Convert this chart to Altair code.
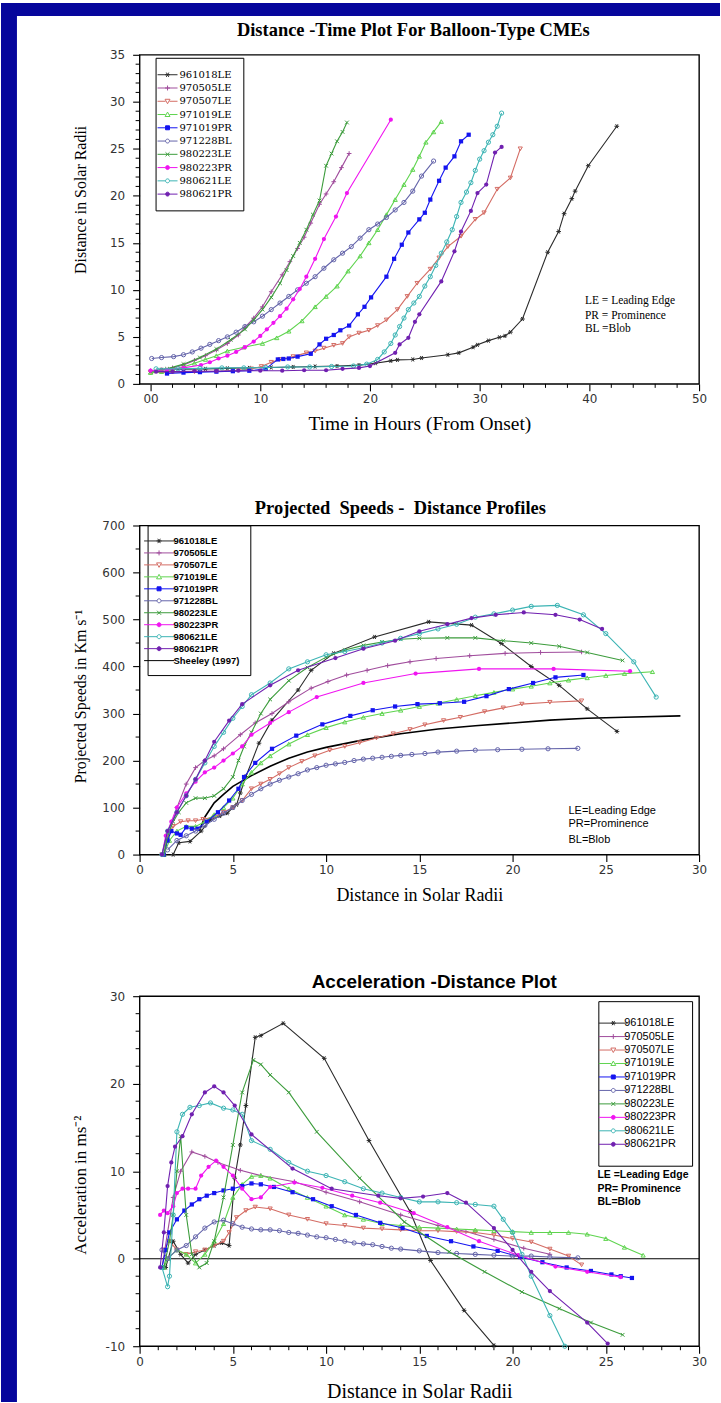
import altair as alt
import pandas as pd

SERIES = ["961018LE", "970505LE", "970507LE", "971019LE", "971019PR",
          "971228BL", "980223LE", "980223PR", "980621LE", "980621PR"]
COLORS = ["#2a2a2a", "#a04c9c", "#d46c64", "#5fd44f", "#1414f0",
          "#6464aa", "#3c9c3c", "#f014f0", "#3cb4b4", "#7020b0"]
KINDS = ["asterisk", "plus", "tri_down", "tri_up", "square",
         "circle", "x", "circle", "circle", "circle"]
FILLED = [False, False, False, False, True, False, False, True, False, True]

# ---------------- Panel 1: distance (Rsun) vs time (h) ----------------
T1_961018LE = [1.0, 3.0, 5.0, 7.0, 9.0, 11.0, 13.0, 15.0, 17.0, 19.0, 20.5, 21.9, 22.5, 23.9, 24.7, 27.1, 28.1, 29.4, 29.8, 30.8, 31.8, 32.3, 32.8, 33.9, 36.2, 37.2, 37.7, 38.4, 38.7, 39.9, 42.5]
D1_961018LE = [1.5, 1.55, 1.6, 1.65, 1.7, 1.75, 1.8, 1.85, 1.9, 2.0, 2.2, 2.45, 2.55, 2.6, 2.75, 3.1, 3.3, 3.9, 4.15, 4.6, 4.95, 5.1, 5.5, 6.9, 14.0, 16.2, 18.1, 19.7, 20.5, 23.2, 27.4]
T1_970505LE = [0.0, 1.0, 2.0, 3.0, 4.0, 5.0, 6.0, 7.0, 8.0, 8.6, 9.4, 10.2, 11.0, 12.0, 12.7, 13.4, 14.0, 14.6, 15.4, 16.0, 16.7, 17.4, 18.1]
D1_970505LE = [1.4, 1.5, 1.7, 2.0, 2.5, 3.0, 3.6, 4.3, 5.2, 6.0, 7.0, 8.2, 9.8, 11.6, 13.0, 14.4, 15.6, 17.1, 19.1, 20.2, 21.5, 23.0, 24.5]
T1_970507LE = [0.0, 2.0, 4.0, 6.0, 8.0, 9.2, 10.1, 11.0, 11.8, 13.0, 14.2, 15.0, 15.8, 16.7, 17.5, 18.1, 19.0, 19.9, 20.7, 21.5, 22.5, 23.4, 24.3, 25.5, 26.3, 27.1, 28.3, 29.6, 30.4, 31.6, 32.8, 33.7]
D1_970507LE = [1.2, 1.25, 1.3, 1.35, 1.45, 1.6, 1.85, 2.3, 2.6, 2.9, 3.3, 3.5, 3.8, 4.1, 4.3, 5.0, 5.4, 5.7, 6.2, 6.8, 7.9, 9.3, 10.7, 12.2, 13.4, 14.6, 15.7, 17.5, 18.2, 20.7, 21.9, 25.0]
T1_971019LE = [0.0, 1.0, 2.0, 3.0, 4.0, 5.0, 6.0, 7.0, 8.5, 10.2, 11.5, 12.6, 13.8, 15.0, 16.0, 17.0, 18.0, 19.1, 19.9, 20.7, 21.5, 22.3, 23.1, 23.9, 24.5, 25.1, 25.8, 26.5]
D1_971019LE = [1.2, 1.3, 1.5, 1.8, 2.2, 2.6, 3.0, 3.5, 3.9, 4.3, 4.9, 5.6, 6.7, 8.2, 9.3, 10.4, 12.0, 13.6, 15.0, 16.4, 18.0, 19.6, 21.2, 22.8, 24.2, 25.7, 26.8, 27.9]
T1_971019PR = [1.5, 3.0, 4.5, 6.0, 7.5, 9.0, 10.5, 11.6, 12.1, 12.6, 13.4, 14.6, 15.4, 16.0, 16.7, 17.3, 18.1, 18.9, 19.5, 20.1, 21.5, 22.2, 22.9, 23.5, 24.5, 25.0, 25.5, 26.3, 26.9, 27.7, 28.3, 29.0]
D1_971019PR = [1.1, 1.2, 1.25, 1.3, 1.35, 1.4, 1.6, 2.6, 2.65, 2.7, 2.9, 3.2, 4.2, 4.8, 5.2, 5.7, 6.2, 7.4, 8.2, 9.2, 11.4, 13.3, 14.8, 16.1, 17.5, 18.2, 19.6, 21.6, 23.0, 24.2, 25.8, 26.5]
T1_971228BL = [0.1, 1.0, 2.1, 3.0, 3.8, 4.6, 5.4, 6.2, 7.0, 7.8, 8.6, 9.4, 10.2, 11.0, 11.8, 12.6, 13.4, 14.2, 15.0, 15.8, 16.7, 17.5, 18.3, 19.1, 19.9, 20.7, 21.5, 22.3, 23.1, 23.9, 24.7, 25.8]
D1_971228BL = [2.7, 2.8, 2.9, 3.1, 3.4, 3.8, 4.2, 4.6, 5.0, 5.5, 6.1, 6.6, 7.2, 7.9, 8.6, 9.3, 10.0, 10.7, 11.4, 12.3, 13.2, 13.9, 14.6, 15.5, 16.4, 17.0, 17.7, 18.5, 19.3, 20.5, 22.1, 23.7]
T1_980223LE = [0.0, 1.5, 3.0, 4.5, 6.0, 7.3, 8.6, 9.4, 10.2, 11.0, 11.8, 12.4, 13.0, 13.6, 14.2, 14.8, 15.4, 16.0, 16.5, 17.0, 17.5, 17.9]
D1_980223LE = [1.3, 1.6, 2.1, 2.8, 3.7, 4.7, 5.8, 6.8, 7.9, 9.2, 10.7, 12.1, 13.6, 15.0, 16.4, 18.0, 19.5, 23.2, 24.5, 25.8, 26.8, 27.8]
T1_980223PR = [0.0, 1.5, 3.0, 4.6, 5.4, 6.2, 7.0, 7.8, 8.6, 9.4, 10.0, 10.6, 11.2, 11.8, 12.4, 13.0, 13.6, 14.2, 15.0, 15.8, 16.9, 17.9, 21.9]
D1_980223PR = [1.4, 1.5, 1.7, 2.0, 2.3, 2.7, 3.0, 3.4, 3.9, 4.5, 5.1, 5.8, 6.5, 7.2, 8.0, 9.0, 10.1, 11.4, 13.3, 15.4, 17.8, 20.3, 28.1]
T1_980621LE = [0.5, 2.5, 4.5, 6.5, 8.5, 10.5, 12.5, 14.5, 16.5, 18.5, 19.7, 20.7, 21.3, 21.9, 22.3, 22.7, 23.1, 23.5, 24.0, 24.5, 25.0, 25.5, 26.0, 26.5, 27.0, 27.5, 27.9, 28.3, 28.8, 29.2, 29.6, 30.0, 30.4, 30.8, 31.2, 31.6, 32.0]
D1_980621LE = [1.6, 1.6, 1.65, 1.7, 1.7, 1.75, 1.8, 1.8, 1.85, 1.9, 2.1, 2.6, 3.4, 4.3, 5.2, 6.1, 7.0, 7.9, 8.6, 9.3, 10.4, 11.4, 12.6, 13.9, 15.1, 16.4, 17.8, 19.3, 20.4, 21.4, 22.7, 23.9, 24.8, 25.7, 26.5, 27.4, 28.8]
T1_980621PR = [0.5, 2.0, 4.0, 6.0, 8.0, 10.0, 12.0, 14.0, 16.0, 17.5, 19.0, 20.0, 22.3, 22.7, 23.5, 24.1, 24.5, 26.5, 27.7, 28.3, 29.2, 29.8, 30.6, 31.4, 32.0]
D1_980621PR = [1.3, 1.3, 1.35, 1.35, 1.4, 1.4, 1.4, 1.45, 1.45, 1.6, 1.7, 1.9, 3.3, 4.2, 4.9, 6.6, 7.4, 10.9, 14.1, 16.2, 18.4, 20.3, 21.2, 24.6, 25.2]

# ---------------- Panel 2: projected speed (km/s) vs distance (Rsun) ----------------
R2_961018LE = [1.8, 2.1, 2.7, 3.3, 3.8, 4.3, 4.7, 5.0, 5.2, 5.4, 5.7, 6.4, 7.1, 8.5, 9.2, 10.4, 12.6, 15.5, 17.8, 19.4, 21.0, 22.5, 24.0, 25.6]
V2_961018LE = [0, 25, 28, 50, 74, 82, 88, 100, 106, 131, 166, 237, 286, 350, 392, 428, 463, 495, 488, 449, 400, 360, 310, 262]
R2_970505LE = [1.3, 1.6, 2.0, 2.5, 3.0, 3.5, 4.0, 4.5, 5.4, 6.2, 7.1, 8.0, 9.2, 10.1, 11.1, 12.2, 13.3, 14.5, 15.9, 17.7, 19.6, 21.5, 23.7]
V2_970505LE = [0, 50, 100, 150, 185, 200, 210, 225, 255, 280, 300, 325, 354, 368, 382, 392, 402, 410, 417, 423, 428, 430, 431]
R2_970507LE = [1.2, 1.5, 1.8, 2.2, 2.6, 3.0, 3.4, 4.0, 4.5, 5.0, 5.5, 6.0, 6.5, 7.0, 7.5, 8.0, 8.7, 9.4, 10.2, 11.0, 11.8, 12.7, 13.6, 14.5, 15.3, 16.3, 17.2, 18.5, 19.5, 20.5, 22.0, 23.7]
V2_970507LE = [0, 40, 60, 70, 72, 72, 75, 80, 90, 100, 115, 140, 150, 160, 172, 185, 198, 210, 222, 230, 238, 248, 257, 266, 276, 285, 292, 304, 312, 320, 324, 327]
R2_971019LE = [1.3, 1.6, 2.0, 2.5, 3.0, 3.5, 4.0, 4.5, 5.0, 5.5, 6.0, 6.5, 7.0, 8.0, 9.0, 10.0, 11.0, 12.0, 13.0, 14.0, 15.0, 16.0, 17.0, 18.0, 19.0, 20.0, 21.0, 22.0, 23.0, 24.0, 25.0, 26.0, 27.5]
V2_971019LE = [0, 30, 50, 60, 60, 70, 85, 100, 120, 150, 175, 195, 210, 235, 255, 270, 282, 292, 300, 307, 315, 322, 330, 338, 345, 352, 358, 365, 371, 376, 381, 385, 389]
R2_971019PR = [1.3, 1.5, 1.7, 2.0, 2.2, 2.5, 2.8, 3.1, 3.6, 4.2, 4.8, 5.3, 5.6, 6.2, 7.1, 8.4, 9.8, 11.3, 12.5, 13.7, 14.9, 16.1, 17.4, 18.6, 19.8, 21.1, 22.3, 23.8]
V2_971019PR = [0, 30, 50, 45, 42, 58, 55, 55, 70, 90, 115, 140, 165, 195, 225, 253, 277, 295, 307, 315, 320, 322, 325, 337, 352, 365, 377, 382]
R2_971228BL = [1.5, 2.0, 2.5, 3.0, 3.5, 4.0, 4.5, 5.0, 5.5, 6.0, 6.5, 7.0, 7.5, 8.0, 8.5, 9.0, 9.5, 10.0, 10.5, 11.0, 11.5, 12.0, 12.5, 13.0, 13.5, 14.0, 14.6, 15.3, 16.0, 17.0, 18.0, 19.2, 20.5, 21.9, 23.5]
V2_971228BL = [10, 30, 40, 50, 62, 75, 88, 100, 115, 128, 140, 150, 158, 165, 172, 180, 185, 190, 193, 196, 200, 203, 205, 207, 209, 211, 213, 215, 218, 220, 222, 223, 224, 225, 226]
R2_980223LE = [1.3, 1.5, 1.8, 2.1, 2.5, 3.0, 3.5, 4.0, 4.5, 5.0, 5.3, 5.6, 6.0, 6.5, 7.0, 8.0, 9.0, 10.0, 11.0, 12.0, 13.0, 14.0, 15.0, 16.5, 18.0, 19.5, 21.0, 22.5, 24.0, 25.9]
V2_980223LE = [0, 40, 70, 90, 110, 120, 120, 125, 140, 165, 200, 230, 260, 300, 330, 370, 398, 420, 435, 445, 452, 458, 460, 461, 461, 455, 450, 443, 430, 413]
R2_980223PR = [1.2, 1.4, 1.7, 2.0, 2.5, 3.0, 3.5, 4.0, 4.5, 5.0, 5.5, 6.0, 7.0, 8.0, 9.5, 12.0, 14.8, 18.2, 22.2, 26.3]
V2_980223PR = [0, 40, 70, 100, 130, 155, 175, 185, 200, 215, 230, 255, 280, 303, 335, 365, 385, 395, 395, 390]
R2_980621LE = [1.2, 1.5, 2.0, 2.5, 3.0, 3.5, 4.0, 4.5, 5.0, 5.5, 6.0, 7.0, 8.0, 9.0, 10.0, 11.0, 12.0, 13.0, 14.0, 15.0, 16.0, 17.0, 18.0, 19.0, 20.0, 21.0, 22.4, 23.8, 25.0, 26.5, 27.7]
V2_980621LE = [0, 50, 90, 125, 160, 195, 230, 260, 290, 315, 340, 365, 395, 410, 425, 432, 440, 450, 460, 470, 480, 490, 505, 512, 520, 528, 530, 510, 470, 410, 335]
R2_980621PR = [1.2, 1.5, 2.0, 2.5, 3.0, 3.5, 4.0, 4.8, 5.5, 7.0, 8.5, 10.5, 12.0, 13.7, 15.0, 16.5, 17.8, 19.1, 20.6, 22.3, 23.6, 24.8]
V2_980621PR = [0, 50, 90, 125, 160, 200, 240, 285, 320, 360, 392, 418, 438, 455, 475, 490, 503, 510, 515, 510, 500, 480]
R2_SHEELEY = [3.2, 3.5, 4.0, 4.5, 5.0, 6.0, 7.0, 8.0, 9.0, 10.0, 12.0, 14.0, 16.0, 18.0, 20.0, 22.0, 24.0, 26.0, 29.0]
V2_SHEELEY = [50, 80, 110, 128, 145, 168, 188, 205, 218, 228, 244, 257, 267, 274, 280, 286, 290, 292, 295]

# ---------------- Panel 3: acceleration (m/s^2) vs distance (Rsun) ----------------
R3_961018LE = [1.4, 1.8, 2.2, 2.6, 3.0, 3.5, 4.0, 4.4, 4.8, 5.1, 5.4, 5.7, 6.2, 6.5, 7.7, 9.9, 12.3, 14.5, 15.6, 17.4, 19.0]
A3_961018LE = [-1.0, 2.0, 0.5, -0.5, 0.5, 1.0, 1.5, 1.8, 1.5, 9.2, 13.0, 17.5, 25.3, 25.5, 26.9, 22.9, 13.5, 5.4, -0.2, -5.9, -9.9]
R3_970505LE = [1.2, 1.5, 1.8, 2.2, 2.8, 3.5, 4.2, 5.4, 6.5, 8.3, 10.0, 11.8, 14.0, 16.0, 17.5, 19.0, 20.6, 22.0]
A3_970505LE = [-1.0, 3.0, 7.0, 10.0, 12.2, 11.7, 11.0, 10.1, 9.5, 8.8, 7.6, 6.5, 5.0, 3.8, 3.1, 2.2, 1.2, 0.5]
R3_970507LE = [1.3, 1.6, 2.0, 2.5, 3.0, 3.5, 4.0, 4.5, 4.8, 5.2, 5.7, 6.2, 7.0, 8.0, 9.0, 10.0, 11.0, 12.0, 13.0, 14.0, 15.0, 16.0, 17.0, 18.0, 19.0, 20.0, 21.0, 22.0, 23.0, 23.7]
A3_970507LE = [1.0, 2.0, 1.0, 0.5, 0.8, 1.0, 1.5, 2.0, 3.0, 4.7, 5.5, 5.9, 5.7, 5.0, 4.5, 4.0, 3.8, 3.5, 3.4, 3.3, 3.2, 3.2, 3.1, 3.0, 2.7, 2.3, 1.9, 1.1, 0.3, -0.7]
R3_971019LE = [1.3, 1.5, 2.0, 2.5, 3.0, 3.5, 4.0, 4.5, 5.0, 5.5, 6.0, 6.5, 7.0, 8.0, 9.0, 10.0, 11.0, 12.0, 13.0, 14.0, 15.0, 16.0, 17.0, 18.0, 19.0, 20.0, 21.0, 22.0, 23.0, 24.0, 25.0, 26.0, 27.0]
A3_971019LE = [-1.0, 0.0, 1.0, 0.5, -0.5, 0.5, 2.0, 4.0, 7.0, 8.5, 9.4, 9.5, 9.2, 8.0, 7.0, 6.0, 5.0, 4.5, 4.0, 3.8, 3.6, 3.5, 3.4, 3.3, 3.2, 3.1, 3.0, 3.0, 3.0, 2.8, 2.3, 1.3, 0.4]
R3_971019PR = [1.2, 1.4, 1.6, 2.0, 2.4, 2.8, 3.2, 3.6, 4.0, 4.5, 5.0, 5.5, 6.0, 6.5, 7.2, 8.2, 9.3, 10.3, 11.6, 12.9, 14.1, 15.4, 16.7, 17.9, 19.2, 20.4, 21.6, 22.9, 24.2, 25.3, 25.8, 26.4]
A3_971019PR = [-1.0, 1.0, 3.0, 4.5, 5.5, 6.2, 6.8, 7.2, 7.5, 7.8, 8.0, 8.3, 8.6, 8.5, 8.2, 7.6, 6.8, 6.0, 5.0, 4.1, 3.5, 2.6, 2.0, 1.4, 0.9, 0.2, -0.4, -1.0, -1.4, -1.8, -2.0, -2.2]
R3_971228BL = [1.2, 1.5, 2.0, 2.5, 3.0, 3.5, 4.0, 4.5, 5.0, 5.5, 6.0, 6.5, 7.0, 7.5, 8.0, 8.5, 9.0, 9.5, 10.0, 10.5, 11.0, 11.5, 12.0, 12.5, 13.0, 13.5, 14.0, 15.0, 16.0, 17.0, 18.0, 19.0, 20.0, 21.0, 22.0, 23.5]
A3_971228BL = [1.0, 0.0, 1.0, 1.5, 2.5, 3.5, 4.2, 4.4, 4.0, 3.6, 3.4, 3.3, 3.3, 3.2, 3.0, 2.9, 2.7, 2.5, 2.4, 2.2, 2.0, 1.8, 1.7, 1.6, 1.4, 1.2, 1.1, 0.9, 0.7, 0.6, 0.5, 0.4, 0.3, 0.3, 0.2, 0.1]
R3_980223LE = [1.3, 1.6, 1.8, 2.0, 2.2, 2.5, 2.8, 3.2, 3.6, 4.0, 4.5, 5.0, 5.5, 6.1, 6.5, 7.0, 8.0, 9.5, 11.8, 14.2, 16.6, 18.5, 20.5, 22.5, 24.2, 25.9]
A3_980223LE = [-1.0, 2.0, 5.0, 10.0, 14.0, 5.0, 0.5, -1.0, -0.5, 2.0, 7.0, 13.0, 19.0, 22.7, 22.2, 21.0, 19.0, 14.5, 9.2, 4.2, 0.8, -1.5, -3.8, -5.7, -7.3, -8.7]
R3_980223PR = [1.1, 1.3, 1.5, 1.8, 2.0, 2.3, 2.6, 3.0, 3.3, 3.7, 4.1, 4.5, 5.0, 5.5, 6.0, 6.5, 7.0, 8.3, 9.8, 11.4, 12.9, 14.7, 16.5, 18.2, 20.3, 22.3, 24.0, 25.8]
A3_980223PR = [5.0, 5.5, 5.2, 6.0, 7.5, 8.0, 8.0, 8.0, 9.5, 10.5, 11.2, 10.5, 9.5, 8.0, 6.8, 7.0, 8.2, 8.7, 8.1, 7.2, 6.4, 5.2, 3.6, 2.0, 0.4, -0.9, -1.5, -2.1]
R3_980621LE = [1.2, 1.5, 1.6, 1.8, 2.0, 2.3, 2.7, 3.2, 3.8, 4.5, 5.0, 5.5, 6.0, 7.0, 8.0, 9.0, 10.0, 11.0, 12.0, 13.0, 14.0, 15.0, 16.0, 17.0, 18.0, 19.0, 19.5, 20.0, 20.5, 21.0, 22.0, 22.8]
A3_980621LE = [-1.0, -3.2, -2.0, 5.0, 14.5, 16.5, 17.3, 17.5, 17.8, 17.2, 17.0, 16.5, 13.5, 12.5, 11.0, 10.0, 9.5, 8.8, 8.0, 7.5, 7.0, 6.5, 6.5, 6.4, 6.2, 6.0, 4.5, 3.0, 0.5, -2.0, -6.5, -10.0]
R3_980621PR = [1.1, 1.3, 1.5, 1.7, 1.9, 2.3, 2.8, 3.5, 4.0, 4.5, 5.1, 6.0, 8.2, 10.3, 12.8, 14.0, 15.2, 16.5, 17.5, 19.0, 20.0, 21.0, 22.0, 24.0, 25.1]
A3_980621PR = [-1.0, 3.0, 8.3, 11.0, 12.8, 14.0, 16.5, 19.0, 19.7, 19.0, 17.5, 14.2, 10.3, 8.0, 7.2, 6.9, 7.1, 7.5, 6.4, 3.5, 1.0, -1.5, -3.7, -7.3, -9.7]

NOTE_TEXT_1 = ["LE = Leading Edge", "PR = Prominence", "BL =Blob"]
NOTE_X_1 = [39.6, 39.6, 39.6]
NOTE_Y_1 = [8.8, 7.2, 5.8]
NOTE_TEXT_2 = ["LE=Leading Edge", "PR=Prominence", "BL=Blob"]
NOTE_X_2 = [23.0, 23.0, 23.0]
NOTE_Y_2 = [92, 64, 32]
NOTE_TEXT_3 = ["LE =Leading Edge", "PR= Prominence", "BL=Blob"]
NOTE_X_3 = [24.55, 24.55, 24.55]
NOTE_Y_3 = [9.55, 8.0, 6.5]

# axis tick positions
MAJOR_X_1 = [0, 10, 20, 30, 40, 50]
MINOR_X_1 = [2, 4, 6, 8, 12, 14, 16, 18, 22, 24, 26, 28, 32, 34, 36, 38, 42, 44, 46, 48]
MAJOR_Y_1 = [0, 5, 10, 15, 20, 25, 30, 35]
MINOR_Y_1 = [1, 2, 3, 4, 6, 7, 8, 9, 11, 12, 13, 14, 16, 17, 18, 19, 21, 22, 23, 24, 26, 27, 28, 29, 31, 32, 33, 34]
MAJOR_X_2 = [0, 5, 10, 15, 20, 25, 30]
MINOR_X_2 = []
MAJOR_Y_2 = [0, 100, 200, 300, 400, 500, 600, 700]
MINOR_Y_2 = [50, 150, 250, 350, 450, 550, 650]
MAJOR_X_3 = [0, 5, 10, 15, 20, 25, 30]
MINOR_X_3 = [1, 2, 3, 4, 6, 7, 8, 9, 11, 12, 13, 14, 16, 17, 18, 19, 21, 22, 23, 24, 26, 27, 28, 29]
MAJOR_Y_3 = [-10, 0, 10, 20, 30]
MINOR_Y_3 = [-8, -6, -4, -2, 2, 4, 6, 8, 12, 14, 16, 18, 22, 24, 26, 28]

P1 = list(zip(SERIES,
              [T1_961018LE, T1_970505LE, T1_970507LE, T1_971019LE, T1_971019PR, T1_971228BL, T1_980223LE, T1_980223PR, T1_980621LE, T1_980621PR],
              [D1_961018LE, D1_970505LE, D1_970507LE, D1_971019LE, D1_971019PR, D1_971228BL, D1_980223LE, D1_980223PR, D1_980621LE, D1_980621PR]))
P2 = list(zip(SERIES,
              [R2_961018LE, R2_970505LE, R2_970507LE, R2_971019LE, R2_971019PR, R2_971228BL, R2_980223LE, R2_980223PR, R2_980621LE, R2_980621PR],
              [V2_961018LE, V2_970505LE, V2_970507LE, V2_971019LE, V2_971019PR, V2_971228BL, V2_980223LE, V2_980223PR, V2_980621LE, V2_980621PR]))
P3 = list(zip(SERIES,
              [R3_961018LE, R3_970505LE, R3_970507LE, R3_971019LE, R3_971019PR, R3_971228BL, R3_980223LE, R3_980223PR, R3_980621LE, R3_980621PR],
              [A3_961018LE, A3_970505LE, A3_970507LE, A3_971019LE, A3_971019PR, A3_971228BL, A3_980223LE, A3_980223PR, A3_980621LE, A3_980621PR]))


def long_frame(triples):
    rows = []
    for name, xs, ys in triples:
        for i, (a, b) in enumerate(zip(xs, ys)):
            rows.append({"series": name, "x": a, "y": b, "i": i})
    return pd.DataFrame(rows)


PLOT_SHAPE = {
    "asterisk": "M-1,0L1,0M-0.5,-0.87L0.5,0.87M-0.5,0.87L0.5,-0.87",
    "plus": "M-1,0L1,0M0,-1L0,1",
    "x": "M-0.8,-0.8L0.8,0.8M-0.8,0.8L0.8,-0.8",
    "tri_down": "triangle-down",
    "tri_up": "triangle-up",
    "square": "square",
    "circle": "circle",
}


def f(v):
    return f"{v:.3f}"


def legend_path(kind, L, m):
    if kind is None:
        return f"M{f(-L)},0L{f(L)},0"
    g = 0.8 * m
    line = f"M{f(-L)},0L{f(-g)},0M{f(g)},0L{f(L)},0"
    if kind == "asterisk":
        mk = (f"M{f(-m)},0L{f(m)},0M{f(-m/2)},{f(-0.87*m)}L{f(m/2)},{f(0.87*m)}"
              f"M{f(-m/2)},{f(0.87*m)}L{f(m/2)},{f(-0.87*m)}")
        line = f"M{f(-L)},0L{f(L)},0"
    elif kind == "plus":
        mk = f"M{f(-m)},0L{f(m)},0M0,{f(-m)}L0,{f(m)}"
        line = f"M{f(-L)},0L{f(L)},0"
    elif kind == "x":
        mk = f"M{f(-g)},{f(-g)}L{f(g)},{f(g)}M{f(-g)},{f(g)}L{f(g)},{f(-g)}"
        line = f"M{f(-L)},0L{f(L)},0"
    elif kind == "tri_down":
        mk = f"M{f(-m)},{f(-0.8*m)}L{f(m)},{f(-0.8*m)}L0,{f(m)}Z"
    elif kind == "tri_up":
        mk = f"M{f(-m)},{f(0.8*m)}L{f(m)},{f(0.8*m)}L0,{f(-m)}Z"
    elif kind == "square":
        mk = f"M{f(-g)},{f(-g)}L{f(g)},{f(-g)}L{f(g)},{f(g)}L{f(-g)},{f(g)}Z"
    else:
        mk = f"M{f(-g)},0A{f(g)},{f(g)} 0 1,0 {f(g)},0A{f(g)},{f(g)} 0 1,0 {f(-g)},0Z"
    return line + mk


def axis(values, label_expr, title, tfont, tsize, tx=None, ty=None, lpad=3):
    kw = dict(values=values, title=title, domain=False, grid=False,
              tickSize=7, tickColor="black", tickWidth=1.1,
              labelFont="DejaVu Sans", labelFontSize=12, labelColor="#333333",
              labelPadding=lpad, labelFlush=False, labelOverlap=False,
              titleFont=tfont, titleFontSize=tsize, titleFontWeight="normal",
              titleColor="black", titleBaseline="middle")
    if label_expr:
        kw["labelExpr"] = label_expr
    if tx is not None:
        kw["titleX"] = tx
    if ty is not None:
        kw["titleY"] = ty
    return alt.Axis(**kw)


def make_panel(triples, xdom, ydom, w, h, xaxis, yaxis, minor_x, minor_y,
               legend, L, m, title, notes, note_font, note_size, note_weight,
               pre=None, post=None, extra_series=None):
    df = long_frame(triples + ([extra_series] if extra_series else []))
    xs = alt.Scale(domain=xdom, nice=False, zero=False)
    ys = alt.Scale(domain=ydom, nice=False, zero=False)
    layers = list(pre or [])
    base = alt.Chart(df)
    layers.append(base.mark_point(opacity=0, size=1).encode(
        x=alt.X("x:Q", scale=xs, axis=xaxis), y=alt.Y("y:Q", scale=ys, axis=yaxis)))
    if minor_x:
        layers.append(alt.Chart(pd.DataFrame({"x": minor_x})).mark_rule(
            color="black", strokeWidth=1).encode(
            x=alt.X("x:Q", scale=xs), y=alt.value(h), y2=alt.value(h + 4)))
    if minor_y:
        layers.append(alt.Chart(pd.DataFrame({"y": minor_y})).mark_rule(
            color="black", strokeWidth=1).encode(
            y=alt.Y("y:Q", scale=ys), x=alt.value(-4), x2=alt.value(0)))
    for extra in (post or []):
        layers.append(extra(xs, ys))
    if extra_series:
        nm = extra_series[0]
        layers.append(base.transform_filter(alt.datum.series == nm).mark_line(
            color="black", strokeWidth=1.6).encode(
            x=alt.X("x:Q", scale=xs), y=alt.Y("y:Q", scale=ys), order="i:Q"))
    for name, col, kind, fil in zip(SERIES, COLORS, KINDS, FILLED):
        sub = base.transform_filter(alt.datum.series == name)
        layers.append(sub.mark_line(color=col, strokeWidth=1.1).encode(
            x=alt.X("x:Q", scale=xs), y=alt.Y("y:Q", scale=ys), order="i:Q"))
        shp = PLOT_SHAPE[kind]
        custom = shp.startswith("M")
        layers.append(sub.mark_point(
            shape=shp, filled=bool(fil and not custom), color=col, opacity=1,
            size=22 if custom else 18, strokeWidth=1).encode(
            x=alt.X("x:Q", scale=xs), y=alt.Y("y:Q", scale=ys)))
    names = list(SERIES)
    strokes = list(COLORS)
    fills = [c if fl else "white" for c, fl in zip(COLORS, FILLED)]
    paths = [legend_path(k, L, m) for k in KINDS]
    if extra_series:
        names.append(extra_series[0])
        strokes.append("black")
        fills.append("white")
        paths.append(legend_path(None, L, m))
    layers.append(base.transform_filter("false").mark_point(filled=True, opacity=1).encode(
        x=alt.X("x:Q", scale=xs), y=alt.Y("y:Q", scale=ys),
        shape=alt.Shape("series:N", scale=alt.Scale(domain=names, range=paths), legend=legend),
        fill=alt.Fill("series:N", scale=alt.Scale(domain=names, range=fills), legend=legend),
        stroke=alt.Stroke("series:N", scale=alt.Scale(domain=names, range=strokes), legend=legend)))
    ndf = pd.DataFrame({"x": notes[0], "y": notes[1], "t": notes[2]})
    layers.append(alt.Chart(ndf).mark_text(
        align="left", baseline="middle", font=note_font, fontSize=note_size,
        fontWeight=note_weight, color="black").encode(
        x=alt.X("x:Q", scale=xs), y=alt.Y("y:Q", scale=ys), text="t:N"))
    return alt.layer(*layers).properties(width=w, height=h, title=title)


def legend_cfg(x, y, font, size, weight, pad, S, soff, loff, rowpad):
    return alt.Legend(orient="none", legendX=x, legendY=y, title=None,
                      strokeColor="black", fillColor="white", padding=pad,
                      symbolSize=S, symbolStrokeWidth=1, symbolOffset=soff,
                      labelOffset=loff, labelFont=font, labelFontSize=size,
                      labelFontWeight=weight, labelColor="black",
                      rowPadding=rowpad, symbolOpacity=1, labelLimit=300)


# page border bands (decoration) drawn from panel 1
border_df = pd.DataFrame({"k": [0]})
band_top = alt.Chart(border_df).mark_rect(color="#06069c").encode(
    x=alt.value(-139), x2=alt.value(582), y=alt.value(-52), y2=alt.value(-39))
band_left = alt.Chart(border_df).mark_rect(color="#06069c").encode(
    x=alt.value(-139), x2=alt.value(-123), y=alt.value(-52), y2=alt.value(1351))

NB = "\u00a0"
W = 561
p1 = make_panel(
    P1, [-1, 50], [0, 35], W, 330,
    axis(MAJOR_X_1, "datum.value == 0 ? '00' : datum.label",
         "Time in Hours (From Onset)", "Liberation Serif", 19.5, ty=40),
    axis(MAJOR_Y_1, None, "Distance in Solar Radii", "Liberation Serif", 16,
         tx=-59, ty=145, lpad=8),
    MINOR_X_1, MINOR_Y_1,
    legend_cfg(16, 3, "DejaVu Serif", 10, "normal", 11, 121, -5, 6, 2.3),
    1.82, 0.45,
    alt.Title("Distance -Time Plot For Balloon-Type CMEs", font="Liberation Serif",
              fontSize=18.5, fontWeight="bold", anchor="middle", frame="group",
              offset=-37, dx=-6, color="black"),
    (NOTE_X_1, NOTE_Y_1, NOTE_TEXT_1), "Liberation Serif", 11.5, "normal",
    pre=[band_top, band_left])

p2 = make_panel(
    P2, [0, 30], [0, 700], W, 330,
    axis(MAJOR_X_2, None, "Distance in Solar Radii", "Liberation Serif", 18, ty=41),
    axis(MAJOR_Y_2, None, "Projected Speeds in Km s\u207b\u00b9", "Liberation Serif", 16,
         tx=-59, ty=171, lpad=8),
    MINOR_X_2, MINOR_Y_2,
    legend_cfg(8, 0, "Liberation Sans", 9.5, "bold", 10, 100, -4, 9, 2.0),
    3.0, 0.5,
    alt.Title(f"Projected {NB}Speeds - {NB}Distance Profiles", font="Liberation Serif",
              fontSize=18.5, fontWeight="bold", anchor="middle", frame="group",
              offset=2, dx=-19, color="black"),
    (NOTE_X_2, NOTE_Y_2, NOTE_TEXT_2), "Liberation Sans", 11, "normal",
    extra_series=("Sheeley (1997)", R2_SHEELEY, V2_SHEELEY))


def zero_rule(xs, ys):
    return alt.Chart(pd.DataFrame({"y": [0]})).mark_rule(color="black", strokeWidth=1.1).encode(
        y=alt.Y("y:Q", scale=ys))


p3 = make_panel(
    P3, [0, 30], [-10, 30], W, 351,
    axis(MAJOR_X_3, None, "Distance in Solar Radii", "Liberation Serif", 20, ty=45),
    axis(MAJOR_Y_3, "replace(datum.label, '\u2212', '-')",
         "Acceleration in ms\u207b\u00b2", "Liberation Serif", 17, tx=-59, ty=189, lpad=8),
    MINOR_X_3, MINOR_Y_3,
    legend_cfg(460, 5, "Liberation Sans", 11, "normal", 16, 121, -7, 5, 2.5),
    2.64, 0.45,
    alt.Title("Acceleration -Distance Plot", font="Liberation Sans",
              fontSize=19, fontWeight="bold", anchor="middle", frame="group",
              offset=-2, dx=15, color="black"),
    (NOTE_X_3, NOTE_Y_3, NOTE_TEXT_3), "Liberation Sans", 10.5, "bold",
    post=[zero_rule])

chart = alt.vconcat(p1, p2, p3, spacing=142, bounds="flush").resolve_scale(
    shape="independent", fill="independent", stroke="independent",
    x="independent", y="independent").resolve_legend(
    shape="independent", fill="independent", stroke="independent").properties(
    padding=0, background="white").configure_view(stroke="black", strokeWidth=1.4)

chart.save("out.html", embed_options={"renderer": "svg", "actions": False})
